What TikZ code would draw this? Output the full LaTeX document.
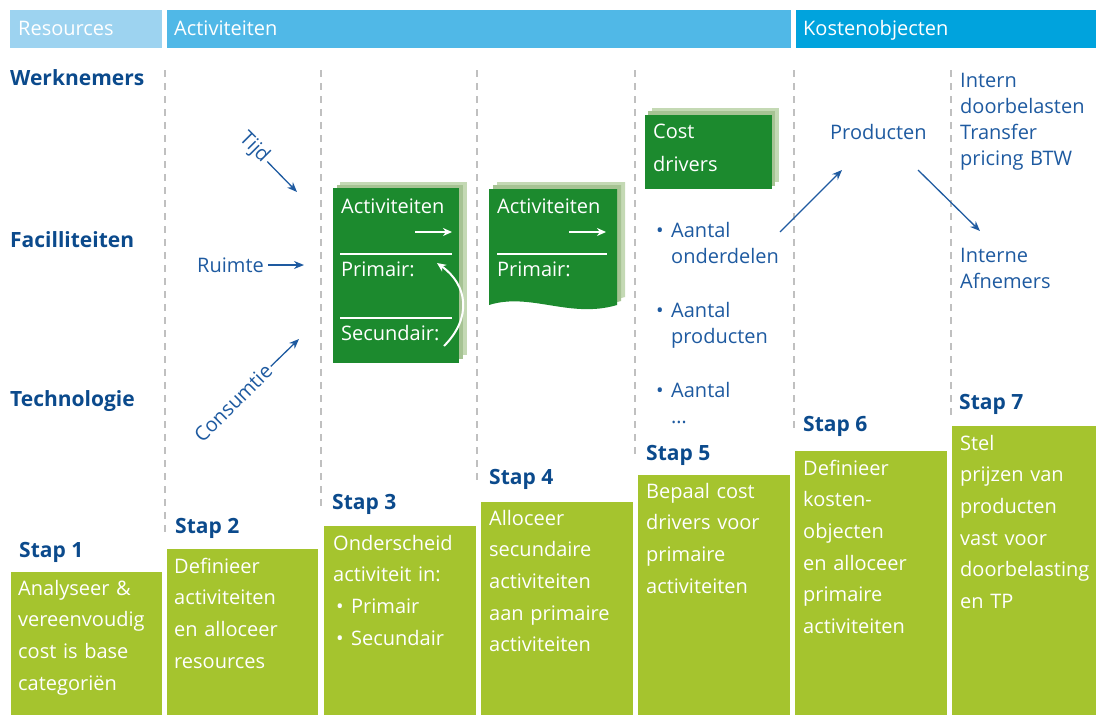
\documentclass[tikz,border=0pt]{standalone}
\usepackage{fontspec}
\setmainfont{Open Sans}
\usetikzlibrary{arrows.meta,calc}
\definecolor{hdrA}{HTML}{9DD3F0}
\definecolor{hdrB}{HTML}{50B8E7}
\definecolor{hdrC}{HTML}{00A3DD}
\definecolor{lime}{HTML}{A5C42E}
\definecolor{dgreen}{HTML}{1C8A2E}
\definecolor{shadeA}{HTML}{A6C393}
\definecolor{shadeB}{HTML}{C4D9B4}
\definecolor{navy}{HTML}{0B4A8C}
\definecolor{mblue}{HTML}{1E5AA0}
\definecolor{dashgray}{HTML}{C0C0C0}
\begin{document}
\begin{tikzpicture}[x=1pt,y=-1pt,
  hbar/.style={fill=#1, draw=none, anchor=north west, inner sep=0, outer sep=0},
  htext/.style={anchor=base west, inner sep=0, text=white, font=\fontsize{20}{24}\selectfont},
  reslbl/.style={anchor=base west, inner sep=0, text=navy, font=\bfseries\fontsize{21}{25}\selectfont},
  stap/.style={anchor=base west, inner sep=0, text=navy, font=\bfseries\fontsize{21}{25}\selectfont},
  limebox/.style={fill=lime, draw=none, anchor=north west, inner sep=0, outer sep=0},
  boxtext/.style={anchor=base west, inner sep=0, text=white, text width=146pt, align=left, font=\fontsize{20}{31.7}\selectfont},
  bluetext/.style={anchor=base west, inner sep=0, text=mblue, text width=140pt, align=left, font=\fontsize{20}{26}\selectfont},
  doctext/.style={anchor=base west, inner sep=0, text=white, text width=120pt, align=left, font=\fontsize{20}{33}\selectfont},
  sepline/.style={dashgray, line width=2.5pt, dash pattern=on 7pt off 6pt},
  barrow/.style={mblue, line width=1.3pt, -{Stealth[length=10pt,width=8pt]}},
  warrow/.style={white, line width=1.5pt, -{Stealth[length=9pt,width=8pt]}},
  wline/.style={white, line width=1.2pt},
  rotlbl/.style={inner sep=2pt, text=mblue, font=\fontsize{20}{24}\selectfont}
]
\useasboundingbox (0,0) rectangle (1096,715);

% ---------- header ----------
\node[hbar=hdrA, minimum width=152pt, minimum height=38pt] (hR) at (10,10) {};
\node[hbar=hdrB, minimum width=624pt, minimum height=38pt] (hA) at (167,10) {};
\node[hbar=hdrC, minimum width=300pt, minimum height=38pt] (hK) at (796,10) {};
\node[htext] (hRt) at (18,35) {Resources};
\node[htext] (hAt) at (174,35) {Activiteiten};
\node[htext] (hKt) at (803,35) {Kostenobjecten};

% ---------- dashed separators ----------
\draw[sepline] (165,70) -- (165,535);
\draw[sepline] (321,70) -- (321,509);
\draw[sepline] (477,70) -- (477,485);
\draw[sepline] (635,70) -- (635,458);
\draw[sepline] (794,70) -- (794,434);
\draw[sepline] (951,70) -- (951,416);

% ---------- resources ----------
\node[reslbl] (wn) at (10,85) {Werknemers};
\node[reslbl] (fa) at (10,247) {Facilliteiten};
\node[reslbl] (te) at (10,406) {Technologie};

% ---------- step 2 drivers ----------
\node[rotlbl, rotate=-45] (tijd) at (254,148) {Tijd};
\coordinate (tijdE) at (297,192);
\draw[barrow] (tijd) -- (tijdE);
\node[rotlbl, inner sep=0, anchor=base west] (ruimte) at (197,272) {Ruimte};
\coordinate (ruimteE) at (304,265);
\draw[barrow, shorten <=4pt] (ruimte.east |- ruimteE) -- (ruimteE);
\node[rotlbl, rotate=45] (cons) at (233,403) {Consumtie};
\coordinate (consE) at (299,339);
\draw[barrow] (cons) -- (consE);

% ---------- step 3 document ----------
\fill[shadeB] (340,182) rectangle (467,355);
\fill[shadeA] (337,185) rectangle (463,359);
\fill[dgreen] (333,188) rectangle (459,363);
\node[doctext] (act3) at (341,213) {Activiteiten};
\node[doctext] (prim3) at (341,276) {Primair:};
\node[doctext] (sec3) at (341,340) {Secundair:};
\draw[wline] (340,254) -- (452,254);
\draw[wline] (340,318) -- (452,318);
\coordinate (a3s) at (415,232);
\coordinate (a3e) at (452,232);
\draw[warrow] (a3s) -- (a3e);
\coordinate (c3s) at (444,346);
\coordinate (c3e) at (437,263);
\draw[warrow, line width=2pt] (c3s) .. controls (472,318) and (468,285) .. (c3e);

% ---------- step 4 document ----------
\fill[shadeB] (497,182) -- (625,182) -- (625,297) .. controls (578,311) and (538,285) .. (497,297) -- cycle;
\fill[shadeA] (493,185) -- (621,185) -- (621,301) .. controls (574,315) and (534,289) .. (493,301) -- cycle;
\fill[dgreen] (489,189) -- (617,189) -- (617,305) .. controls (570,319) and (530,292) .. (489,305) -- cycle;
\node[doctext] (act4) at (497,213) {Activiteiten};
\node[doctext] (prim4) at (497,276) {Primair:};
\draw[wline] (497,254) -- (607,254);
\coordinate (a4s) at (569,232);
\coordinate (a4e) at (606,232);
\draw[warrow] (a4s) -- (a4e);

% ---------- step 5 cost drivers ----------
\fill[shadeB] (652,108) rectangle (779,182);
\fill[shadeA] (648,111) rectangle (775,186);
\fill[dgreen] (645,115) rectangle (772,189);
\node[doctext] (cd) at (653,138) {Cost\\drivers};
\node[bluetext] (cd1) at (655,237) {\makebox[16pt][l]{\hspace{1pt}•}Aantal\\\hspace*{16pt}onderdelen};
\node[bluetext] (cd2) at (655,317) {\makebox[16pt][l]{\hspace{1pt}•}Aantal\\\hspace*{16pt}producten};
\node[bluetext] (cd3) at (655,397) {\makebox[16pt][l]{\hspace{1pt}•}Aantal\\\hspace*{16pt}\dots};

% ---------- step 6 / 7 ----------
\node[bluetext] (prod) at (830,139) {Producten};
\coordinate (p1s) at (780,232);
\coordinate (p1e) at (842,170);
\draw[barrow] (p1s) -- (p1e);
\coordinate (p2s) at (918,170);
\coordinate (p2e) at (980,231);
\draw[barrow] (p2s) -- (p2e);
\node[bluetext] (intern) at (960,87) {Intern\\doorbelasten\\Transfer\\pricing BTW};
\node[bluetext] (afn) at (960,262) {Interne\\Afnemers};

% ---------- step boxes ----------
\node[limebox, minimum width=151pt, minimum height=143pt] (b1) at (11,572) {};
\node[limebox, minimum width=151pt, minimum height=166pt] (b2) at (167,549) {};
\node[limebox, minimum width=152pt, minimum height=189pt] (b3) at (324,526) {};
\node[limebox, minimum width=152pt, minimum height=213pt] (b4) at (481,502) {};
\node[limebox, minimum width=152pt, minimum height=240pt] (b5) at (638,475) {};
\node[limebox, minimum width=152pt, minimum height=264pt] (b6) at (795,451) {};
\node[limebox, minimum width=144pt, minimum height=289pt] (b7) at (952,426) {};

\node[stap] (s1) at (19,557) {Stap 1};
\node[stap] (s2) at (175,533) {Stap 2};
\node[stap] (s3) at (332,509) {Stap 3};
\node[stap] (s4) at (489,484) {Stap 4};
\node[stap] (s5) at (646,460) {Stap 5};
\node[stap] (s6) at (803,431) {Stap 6};
\node[stap] (s7) at (959,409) {Stap 7};

\node[boxtext] (t1) at (18,595) {Analyseer \&\\vereenvoudig\\cost is base\\categoriën};
\node[boxtext] (t2) at (174,573) {Definieer\\activiteiten\\en alloceer\\resources};
\node[boxtext] (t3) at (333,550) {Onderscheid\\activiteit in:\\\makebox[18pt][l]{\hspace{3pt}•}Primair\\\makebox[18pt][l]{\hspace{3pt}•}Secundair};
\node[boxtext] (t4) at (489,525) {Alloceer\\secundaire\\activiteiten\\aan primaire\\activiteiten};
\node[boxtext] (t5) at (646,498) {Bepaal cost\\drivers voor\\primaire\\activiteiten};
\node[boxtext] (t6) at (803,475) {Definieer\\kosten-\\objecten\\en alloceer\\primaire\\activiteiten};
\node[boxtext] (t7) at (960,450) {Stel\\prijzen van\\producten\\vast voor\\doorbelasting\\en TP};
\end{tikzpicture}
\end{document}
